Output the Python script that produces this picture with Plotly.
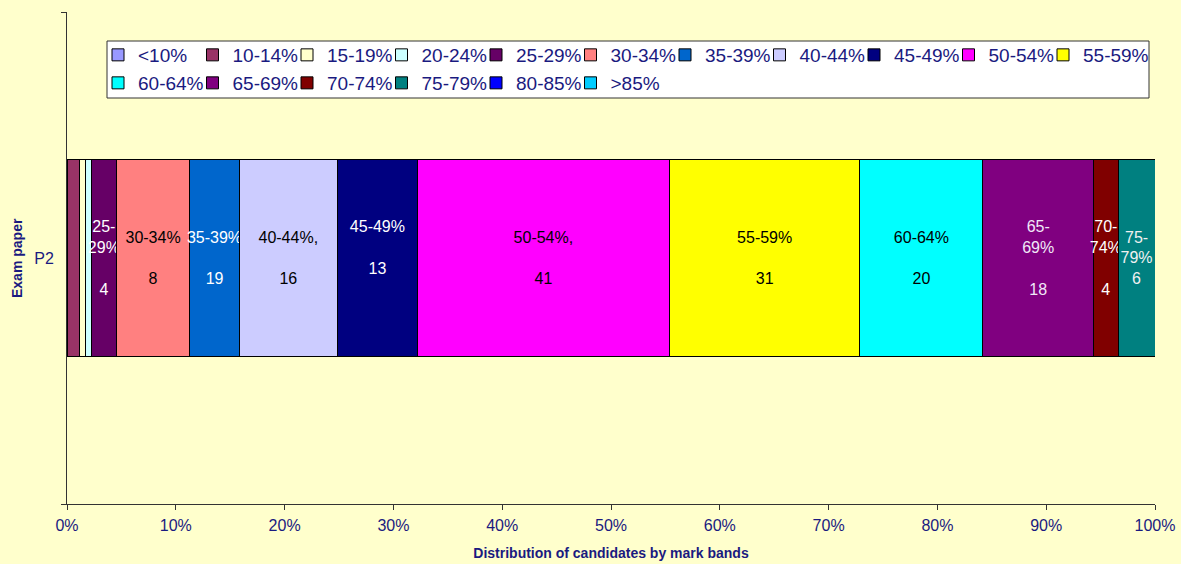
import plotly.graph_objects as go

categories = ["P2"]
bands = ["<10%", "10-14%", "15-19%", "20-24%", "25-29%", "30-34%", "35-39%",
         "40-44%", "45-49%", "50-54%", "55-59%", "60-64%", "65-69%", "70-74%",
         "75-79%", "80-85%", ">85%"]
counts = [0, 2, 1, 1, 4, 12, 8, 16, 13, 41, 31, 20, 18, 4, 6, 0, 0]
bar_labels = ["", "", "", "", "25-<br>29%<br><br>4", "30-34%<br><br>8", "35-39%<br><br>19",
              "40-44%,<br><br>16", "45-49%<br><br>13<br> ", "50-54%,<br><br>41", "55-59%<br><br>31",
              "60-64%<br><br>20", "65-<br>69%<br><br>18", "70-<br>74%<br><br>4",
              "75-<br>79%<br>6", "", ""]
x_tickvals = [0, 10, 20, 30, 40, 50, 60, 70, 80, 90, 100]
x_ticktext = ["0%", "10%", "20%", "30%", "40%", "50%", "60%", "70%", "80%", "90%", "100%"]

colors = ["#9999FF", "#993366", "#FFFFCC", "#CCFFFF", "#660066", "#FF8080", "#0066CC",
          "#CCCCFF", "#000080", "#FF00FF", "#FFFF00", "#00FFFF", "#800080", "#800000",
          "#008080", "#0000FF", "#00CCFF"]
label_colors = ["black", "black", "black", "black", "white", "black", "white",
                "black", "white", "black", "black", "black", "#F0E8F8", "white",
                "#F0F0F0", "white", "white"]

NAVY = "#1A1A80"
BG = "#FFFFCC"
W, H = 1181, 564
ML, MR, MT, MB = 67, 26, 12, 60
PW, PH = W - ML - MR, H - MT - MB
PER_ROW, PITCH, ROW_H = 11, 94.5, 28
LEG_X0, LEG_Y0 = 98, 36


def px_x(p):
    return (p - ML) / PW


def px_y(p):
    return (H - MB - p) / PH


def legend_key(i):
    return "legend" if i == 0 else f"legend{i + 1}"


fig = go.Figure()
legend_layouts = {}
for i, (band, val, lab, col, tcol) in enumerate(zip(bands, counts, bar_labels, colors, label_colors)):
    key = legend_key(i)
    fig.add_trace(go.Bar(
        y=categories, x=[val], name=band, orientation="h", legend=key,
        marker=dict(color=col, line=dict(color="black", width=1)),
        text=[lab], textposition="inside", insidetextanchor="middle",
        textangle=0, constraintext="none",
        textfont=dict(family="Arial, Liberation Sans", size=16, color=tcol),
        hoverinfo="name+x",
    ))
    row, c = divmod(i, PER_ROW)
    legend_layouts[key] = dict(
        x=px_x(LEG_X0 + c * PITCH), y=px_y(LEG_Y0 + row * ROW_H),
        orientation="h", xanchor="left", yanchor="top",
        bgcolor="rgba(0,0,0,0)", borderwidth=0,
        font=dict(size=19, color=NAVY), itemwidth=30,
    )

fig.update_layout(
    barmode="stack", barnorm="percent", bargap=0.6,
    width=W, height=H,
    paper_bgcolor=BG, plot_bgcolor=BG,
    margin=dict(l=ML, r=MR, t=MT, b=MB, autoexpand=False),
    font=dict(family="Arial, Liberation Sans", color=NAVY, size=16),
    showlegend=True,
    shapes=[dict(type="rect", xref="paper", yref="paper", layer="below",
                 x0=px_x(107), x1=px_x(1149), y0=px_y(98), y1=px_y(41),
                 fillcolor="white", line=dict(color="#333333", width=1))],
    annotations=[dict(text="<b>Exam paper</b>", xref="paper", yref="paper",
                      x=px_x(17), y=0.5, textangle=-90, showarrow=False,
                      xanchor="center", yanchor="middle",
                      font=dict(size=14, color=NAVY))],
    xaxis=dict(
        range=[0, 100], tickvals=x_tickvals, ticktext=x_ticktext,
        showgrid=False, zeroline=False, automargin=False,
        showline=True, linecolor="#333333", linewidth=1,
        ticks="outside", ticklen=5, tickcolor="#333333", ticklabelstandoff=2,
        tickfont=dict(size=16, color=NAVY),
        title=dict(text="<b>Distribution of candidates by mark bands</b>",
                   font=dict(size=14, color=NAVY), standoff=14),
    ),
    yaxis=dict(
        showgrid=False, zeroline=False, showline=True, linecolor="#333333", linewidth=1,
        automargin=False,
        ticks="outside", ticklen=5, tickcolor="#333333", tickson="boundaries",
        ticklabelstandoff=9,
        tickfont=dict(size=16, color=NAVY),
    ),
)
fig.update_layout(**legend_layouts)

fig.write_html("out.html", config={"displayModeBar": False},
               post_script="document.body.style.margin='0';")
